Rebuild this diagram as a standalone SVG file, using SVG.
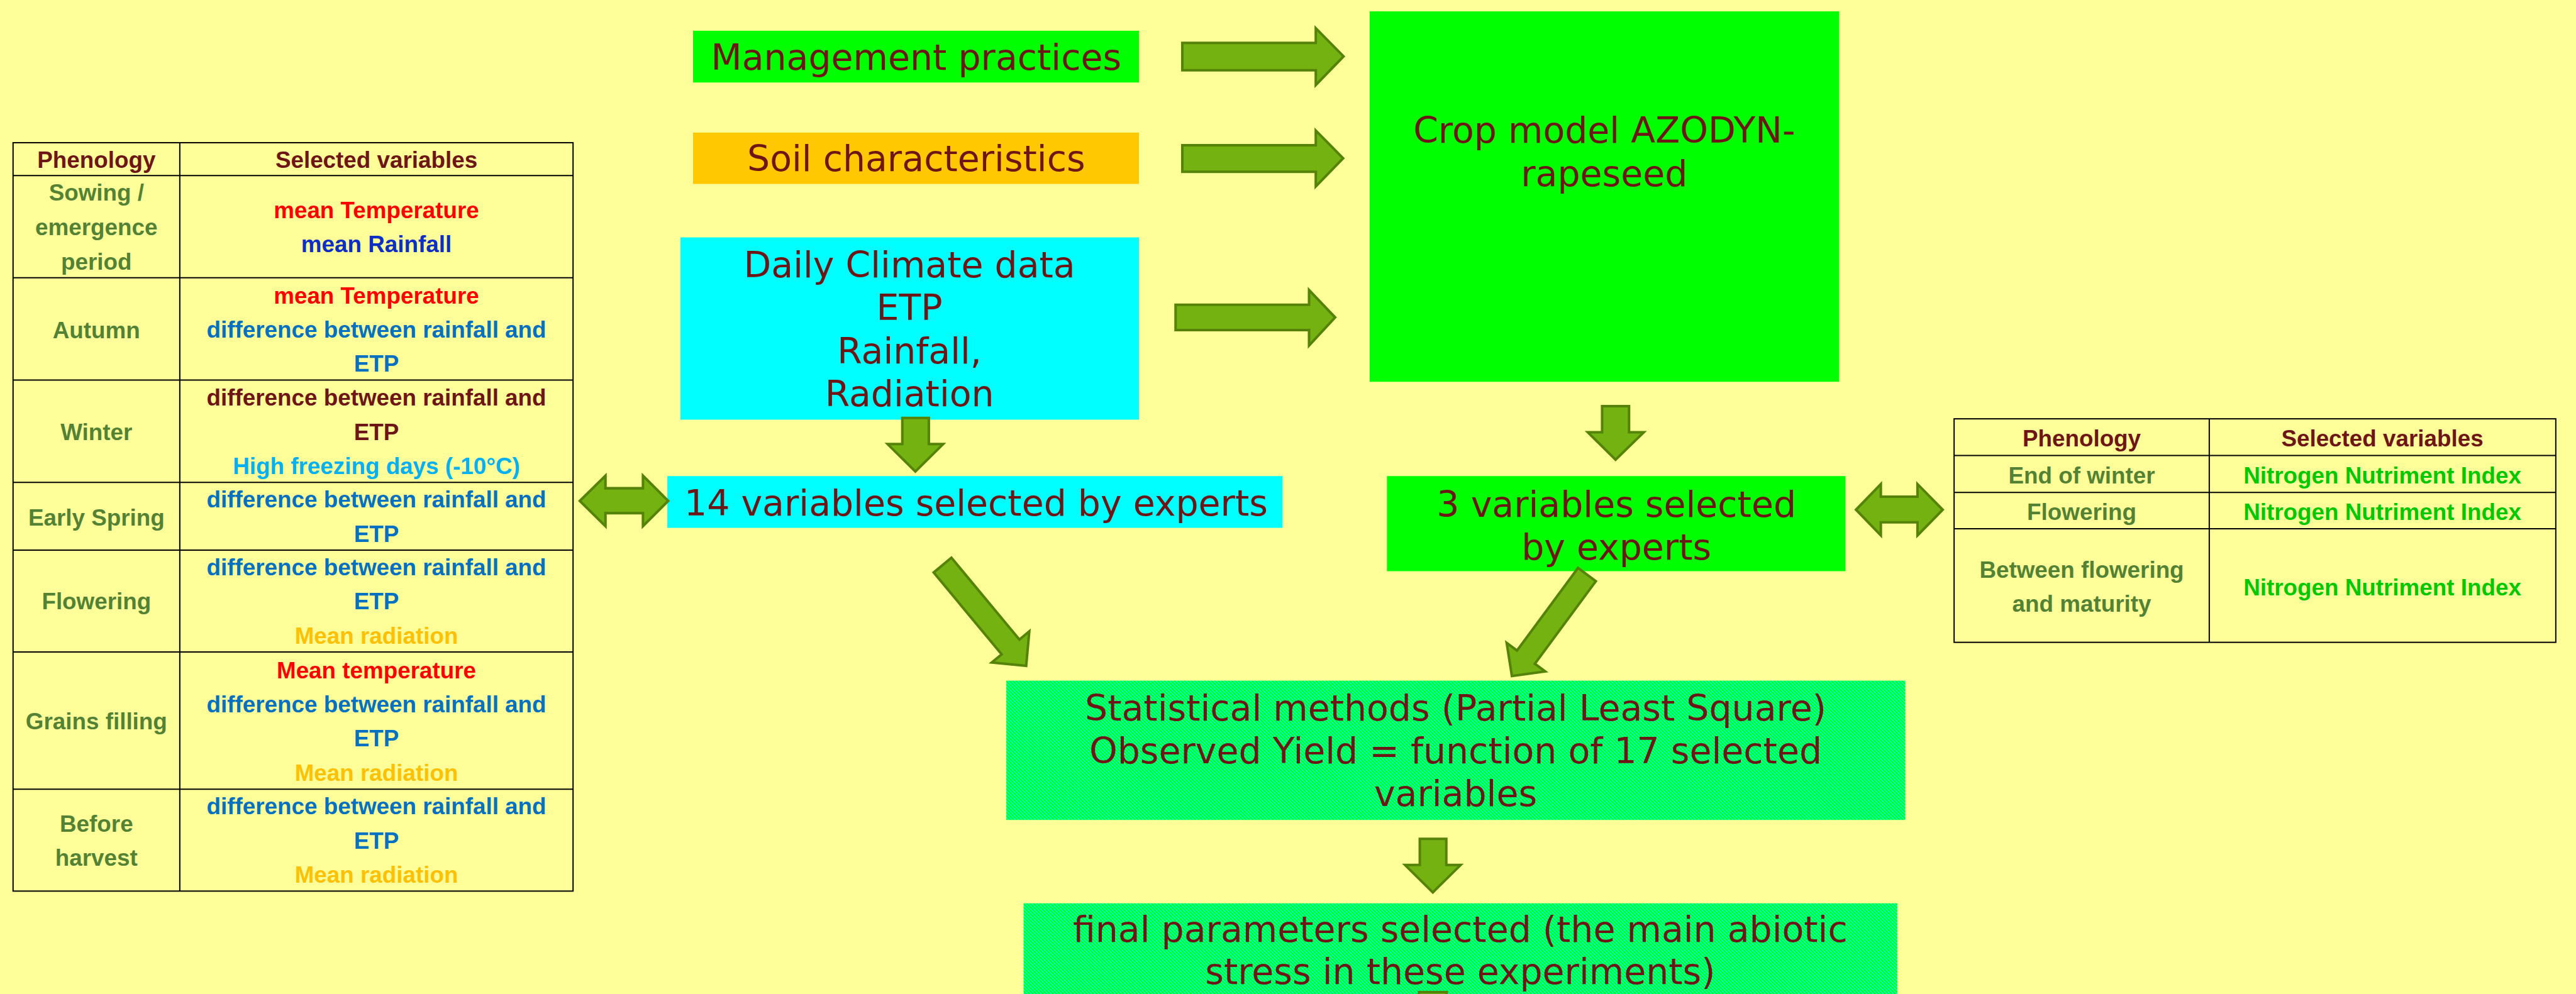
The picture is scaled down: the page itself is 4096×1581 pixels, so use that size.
<svg xmlns="http://www.w3.org/2000/svg" width="4096" height="1581" viewBox="0 0 4096 1581">
<defs>
<style>
.bx{font-family:"DejaVu Sans",Verdana,sans-serif;font-size:85px;fill:#6E1616;text-anchor:middle}
.tb{font-family:"Liberation Sans",Arial,sans-serif;font-weight:bold;font-size:55px;text-anchor:middle}
.grid{fill:none;stroke:#000;stroke-width:3}
.arrow{fill:#73B211;stroke:#558209;stroke-width:6;stroke-linejoin:miter}
.hd{fill:#6E1616}
.ph{fill:#548235}
.rd{fill:#FF0000}
.bl{fill:#0B2FC4}
.md{fill:#0070C0}
.lb{fill:#00B0F0}
.rad{fill:#FFC000}
.nni{fill:#00C800}
</style>
<pattern id="hatch" patternUnits="userSpaceOnUse" width="8" height="8">
<rect width="8" height="8" fill="#00FF00"/>
<path d="M-2,-2 L10,10 M-2,6 L2,10 M6,-2 L10,2" stroke="#00FFFF" stroke-width="2.2"/>
</pattern>
</defs>
<rect x="0" y="0" width="4096" height="1581" fill="#FFFF99"/>
<g transform="scale(0.66950)">

<g id="left-table">
<rect class="grid" x="31" y="339" width="1330" height="1778"/>
<path class="grid" d="M427,339 V2117 M31,417 H1361 M31,660 H1361 M31,903 H1361 M31,1146 H1361 M31,1307 H1361 M31,1549 H1361 M31,1875 H1361"/>
<text class="tb hd" x="229" y="399">Phenology</text>
<text class="tb hd" x="894" y="399">Selected variables</text>
<text class="tb ph" x="229" y="477">Sowing /</text>
<text class="tb ph" x="229" y="559">emergence</text>
<text class="tb ph" x="229" y="641">period</text>
<text class="tb rd" x="894" y="518">mean Temperature</text>
<text class="tb bl" x="894" y="599">mean Rainfall</text>
<text class="tb ph" x="229" y="803">Autumn</text>
<text class="tb rd" x="894" y="721">mean Temperature</text>
<text class="tb md" x="894" y="802">difference between rainfall and</text>
<text class="tb md" x="894" y="883">ETP</text>
<text class="tb ph" x="229" y="1045">Winter</text>
<text class="tb hd" x="894" y="964">difference between rainfall and</text>
<text class="tb hd" x="894" y="1045">ETP</text>
<text class="tb lb" x="894" y="1126">High freezing days (-10°C)</text>
<text class="tb ph" x="229" y="1248">Early Spring</text>
<text class="tb md" x="894" y="1206">difference between rainfall and</text>
<text class="tb md" x="894" y="1287">ETP</text>
<text class="tb ph" x="229" y="1448">Flowering</text>
<text class="tb md" x="894" y="1367">difference between rainfall and</text>
<text class="tb md" x="894" y="1448">ETP</text>
<text class="tb rad" x="894" y="1529">Mean radiation</text>
<text class="tb ph" x="229" y="1732">Grains filling</text>
<text class="tb rd" x="894" y="1611">Mean temperature</text>
<text class="tb md" x="894" y="1692">difference between rainfall and</text>
<text class="tb md" x="894" y="1773">ETP</text>
<text class="tb rad" x="894" y="1855">Mean radiation</text>
<text class="tb ph" x="229" y="1976">Before</text>
<text class="tb ph" x="229" y="2057">harvest</text>
<text class="tb md" x="894" y="1935">difference between rainfall and</text>
<text class="tb md" x="894" y="2016">ETP</text>
<text class="tb rad" x="894" y="2097">Mean radiation</text>
</g>

<g id="right-table">
<rect class="grid" x="4641" y="995" width="1429" height="531"/>
<path class="grid" d="M5247,995 V1526 M4641,1082 H6070 M4641,1170 H6070 M4641,1256 H6070"/>
<text class="tb hd" x="4944" y="1060">Phenology</text>
<text class="tb hd" x="5658" y="1060">Selected variables</text>
<text class="tb ph" x="4944" y="1148">End of winter</text>
<text class="tb nni" x="5658" y="1148">Nitrogen Nutriment Index</text>
<text class="tb ph" x="4944" y="1235">Flowering</text>
<text class="tb nni" x="5658" y="1235">Nitrogen Nutriment Index</text>
<text class="tb ph" x="4944" y="1372">Between flowering</text>
<text class="tb ph" x="4944" y="1454">and maturity</text>
<text class="tb nni" x="5658" y="1414">Nitrogen Nutriment Index</text>
</g>

<g id="management">
<rect x="1646" y="73" width="1059" height="123" fill="#00FF00"/>
<text class="bx" x="2176" y="166">Management practices</text>
</g>

<g id="soil">
<rect x="1646" y="315" width="1059" height="122" fill="#FFC800"/>
<text class="bx" x="2176" y="407">Soil characteristics</text>
</g>

<g id="climate">
<rect x="1616" y="564" width="1089" height="433" fill="#00FFFF"/>
<text class="bx" x="2160" y="659">Daily Climate data</text>
<text class="bx" x="2160" y="761">ETP</text>
<text class="bx" x="2160" y="863">Rainfall,</text>
<text class="bx" x="2160" y="965">Radiation</text>
</g>

<g id="fourteen-variables">
<rect x="1585" y="1131" width="1461" height="123" fill="#00FFFF"/>
<text class="bx" x="2318" y="1225">14 variables selected by experts</text>
</g>

<g id="crop-model">
<rect x="3253" y="27" width="1115" height="880" fill="#00FF00"/>
<text class="bx" x="3810" y="339">Crop model AZODYN-</text>
<text class="bx" x="3810" y="442">rapeseed</text>
</g>

<g id="three-variables">
<rect x="3294" y="1131" width="1089" height="226" fill="#00FF00"/>
<text class="bx" x="3839" y="1228">3 variables selected</text>
<text class="bx" x="3839" y="1330">by experts</text>
</g>

<g id="statistical">
<rect x="2390" y="1617" width="2135" height="331" fill="url(#hatch)"/>
<text class="bx" x="3457" y="1711">Statistical methods (Partial Least Square)</text>
<text class="bx" x="3457" y="1813">Observed Yield = function of 17 selected</text>
<text class="bx" x="3457" y="1915">variables</text>
</g>

<g id="final">
<rect x="2431" y="2146" width="2075" height="260" fill="url(#hatch)"/>
<text class="bx" x="3468" y="2238">final parameters selected (the main abiotic</text>
<text class="bx" x="3468" y="2338">stress in these experiments)</text>
</g>

<g id="connectors">
<polygon class="arrow" points="2808,102 3125,102 3125,67 3191,134 3125,202 3125,167 2808,167"/>
<polygon class="arrow" points="2808,345 3125,345 3125,310 3190,376 3125,443 3125,408 2808,408"/>
<polygon class="arrow" points="2792,724 3109,724 3109,689 3171,754 3109,821 3109,784 2792,784"/>
<polygon class="arrow" points="2143,993 2206,993 2206,1055 2240,1055 2174,1120 2108,1055 2143,1055"/>
<polygon class="arrow" points="3805,965 3869,965 3869,1027 3904,1027 3837,1092 3771,1027 3805,1027"/>
<polygon class="arrow" points="3372,1993 3435,1993 3435,2055 3469,2055 3403,2120 3337,2055 3372,2055"/>
<polygon class="arrow" points="3370,2357 3436,2357 3436,2420 3370,2420"/>
<polygon class="arrow" points="1377,1190 1438,1130 1438,1160 1527,1160 1527,1130 1587,1190 1527,1250 1527,1219 1438,1219 1438,1250"/>
<polygon class="arrow" points="4408,1211 4467,1150 4467,1180 4554,1180 4554,1150 4614,1211 4554,1272 4554,1241 4467,1241 4467,1272"/>
<polygon class="arrow" points="2259.6,1324.9 2421.1,1519.3 2444.6,1499.8 2437.2,1581.7 2355.4,1574 2378.9,1554.5 2217.4,1360.1"/>
<polygon class="arrow" points="3790.2,1380.7 3645.3,1576.9 3669.9,1595.1 3590.8,1606.2 3578.3,1527.3 3602.9,1545.5 3747.8,1349.3"/>
</g>
</g>
</svg>
